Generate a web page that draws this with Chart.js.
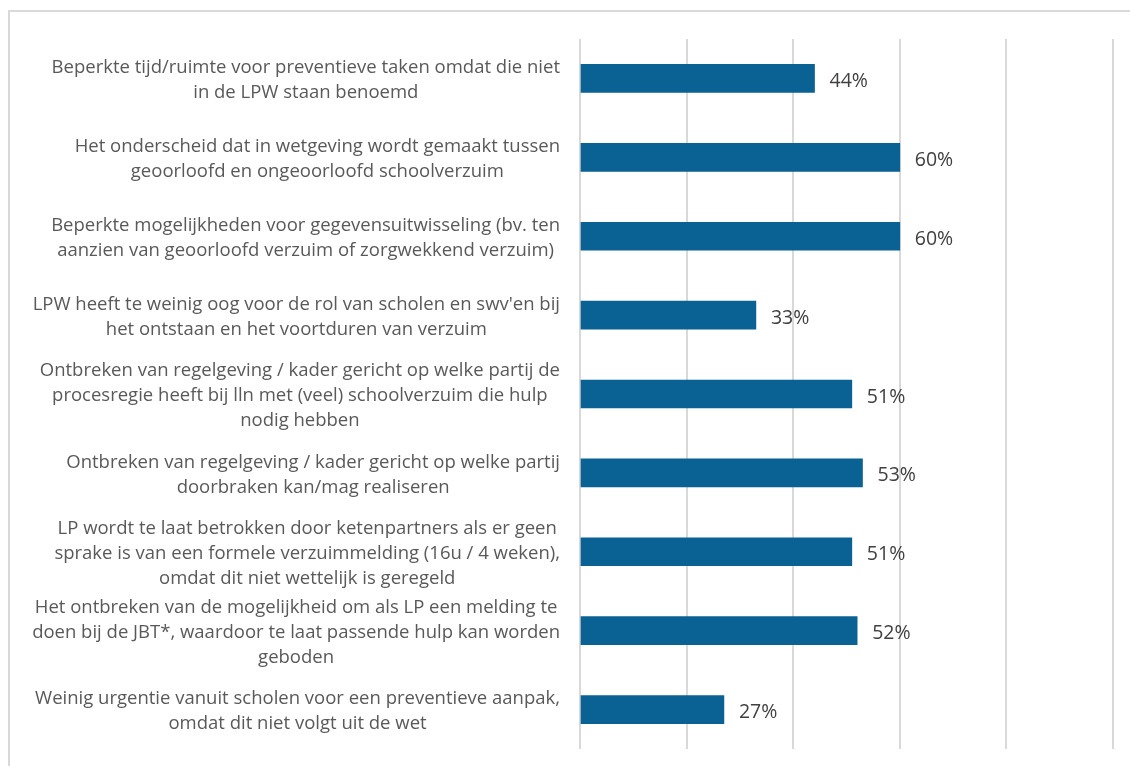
<!DOCTYPE html>
<html lang="nl">
<head>
  <meta charset="UTF-8" />
  <title>Knelpunten wetgeving</title>
  <style>
    *{box-sizing:border-box;margin:0;padding:0;}
    html,body{width:1130px;height:766px;overflow:hidden;background:#fff;}
    #frame{position:absolute;left:8px;top:10px;width:1140px;height:780px;border:2px solid #d9d9d9;}
    #wrap{position:absolute;left:0;top:0;width:1130px;height:766px;}
  </style>
</head>
<body>
  <div id="frame"></div>
  <div id="wrap"><canvas id="chart"></canvas></div>

  <script src="https://cdn.jsdelivr.net/npm/chart.js@4.4.1/dist/chart.umd.min.js"></script>
  <script>
  /* -------- data -------- */
  const categories=[
    ['Beperkte tijd/ruimte voor preventieve taken omdat die niet','in de LPW staan benoemd'],
    ['Het onderscheid dat in wetgeving wordt gemaakt tussen','geoorloofd en ongeoorloofd schoolverzuim'],
    ['Beperkte mogelijkheden voor gegevensuitwisseling (bv. ten','aanzien van geoorloofd verzuim of zorgwekkend verzuim)'],
    ["LPW heeft te weinig oog voor de rol van scholen en swv'en bij",'het ontstaan en het voortduren van verzuim'],
    ['Ontbreken van regelgeving / kader gericht op welke partij de','procesregie heeft bij lln met (veel) schoolverzuim die hulp','nodig hebben'],
    ['Ontbreken van regelgeving / kader gericht op welke partij','doorbraken kan/mag realiseren'],
    ['LP wordt te laat betrokken door ketenpartners als er geen','sprake is van een formele verzuimmelding (16u / 4 weken),','omdat dit niet wettelijk is geregeld'],
    ['Het ontbreken van de mogelijkheid om als LP een melding te','doen bij de JBT*, waardoor te laat passende hulp kan worden','geboden'],
    ['Weinig urgentie vanuit scholen voor een preventieve aanpak,','omdat dit niet volgt uit de wet']
  ];
  const values=[0.44,0.60,0.60,0.33,0.51,0.53,0.51,0.52,0.27];
  const xTicks=[0,0.2,0.4,0.6,0.8,1];

  /* -------- labels links, per blok gecentreerd -------- */
  const labelPlugin={
    id:'blockLabels',
    afterDraw(chart){
      const {ctx}=chart;
      const y=chart.scales.y;
      const right=560, lh=25;
      ctx.save();
      ctx.font='18.5px "Open Sans", sans-serif';
      ctx.fillStyle='#595959';
      ctx.textAlign='center';
      ctx.textBaseline='middle';
      categories.forEach((lines,i)=>{
        const w=Math.max(...lines.map(l=>ctx.measureText(l).width));
        const cx=right-w/2;
        const cy=y.getPixelForValue(i)+2;
        lines.forEach((l,k)=>{
          ctx.fillText(l,cx,cy+(k-(lines.length-1)/2)*lh);
        });
      });
      /* waardelabels */
      const meta=chart.getDatasetMeta(0);
      ctx.font='19.5px "Open Sans", sans-serif';
      ctx.fillStyle='#404040';
      ctx.textAlign='left';
      meta.data.forEach((bar,i)=>{
        ctx.fillText(Math.round(values[i]*100)+'%',bar.x+15,bar.y+3);
      });
      ctx.restore();
    }
  };

  new Chart(document.getElementById('chart'),{
    type:'bar',
    data:{
      labels:categories.map(c=>c.join(' ')),
      datasets:[{data:values,backgroundColor:'#0a6194',barThickness:28}]
    },
    options:{
      indexAxis:'y',
      responsive:true,
      maintainAspectRatio:false,
      animation:false,
      layout:{padding:{left:580,right:17,top:39,bottom:17}},
      plugins:{legend:{display:false},tooltip:{enabled:false}},
      scales:{
        x:{
          min:0,max:1,
          afterBuildTicks(s){s.ticks=xTicks.map(v=>({value:v}));},
          ticks:{display:false},
          grid:{color:'#d9d9d9',lineWidth:2,drawTicks:false},
          border:{display:false}
        },
        y:{display:false}
      }
    },
    plugins:[labelPlugin]
  });
  </script>
</body>
</html>
